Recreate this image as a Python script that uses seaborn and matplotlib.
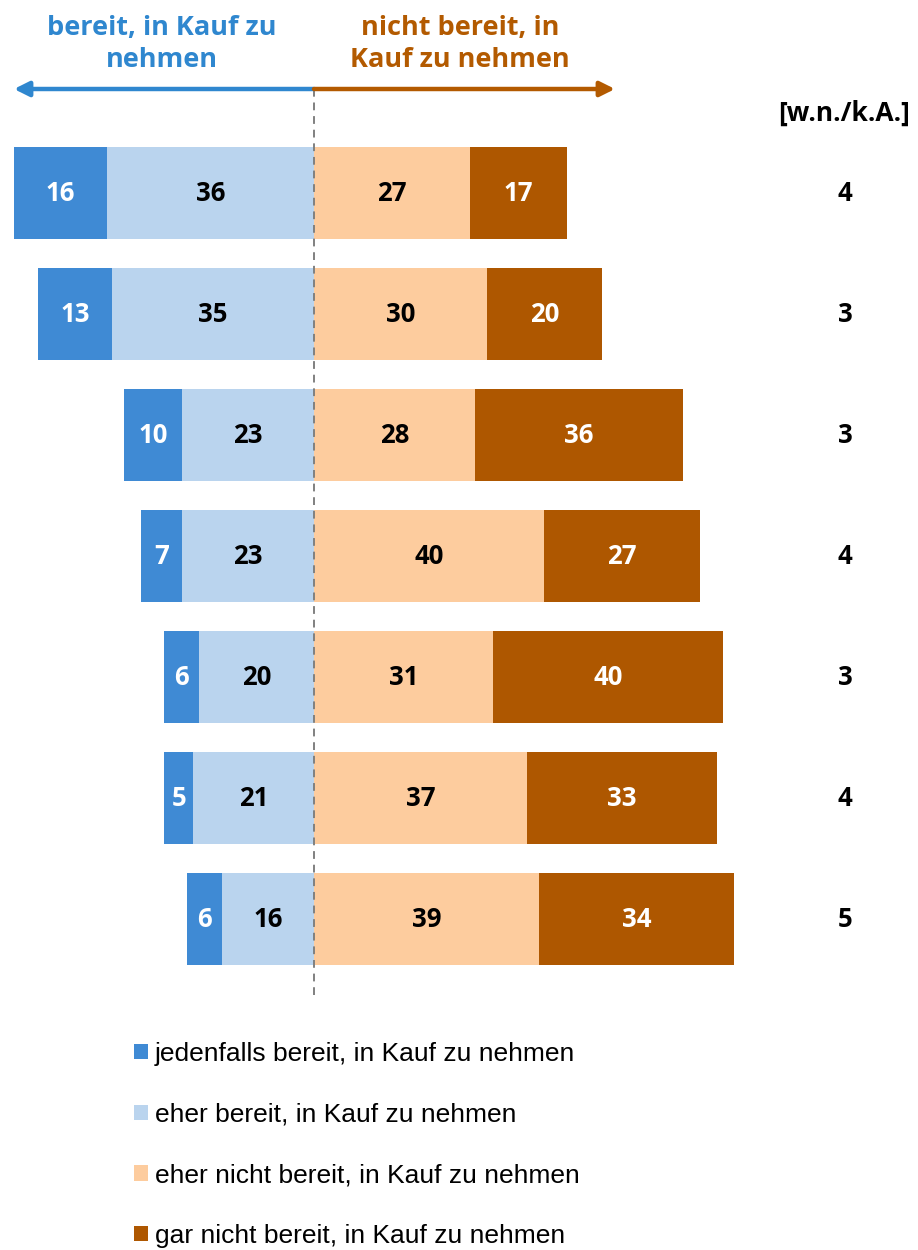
import matplotlib
matplotlib.use("Agg")
import matplotlib.pyplot as plt
import seaborn as sns
import pandas as pd
import numpy as np

# ---- data ----
rows = ["R1", "R2", "R3", "R4", "R5", "R6", "R7"]
jedenfalls = [16, 13, 10, 7, 6, 5, 6]
eher = [36, 35, 23, 23, 20, 21, 16]
eher_nicht = [27, 30, 28, 40, 31, 37, 39]
gar_nicht = [17, 20, 36, 27, 40, 33, 34]
wnka = [4, 3, 3, 4, 3, 4, 5]

legend_labels = [
    "jedenfalls bereit, in Kauf zu nehmen",
    "eher bereit, in Kauf zu nehmen",
    "eher nicht bereit, in Kauf zu nehmen",
    "gar nicht bereit, in Kauf zu nehmen",
]
header_left = "bereit, in Kauf zu\nnehmen"
header_right = "nicht bereit, in\nKauf zu nehmen"
wnka_header = "[w.n./k.A.]"

# ---- colors ----
c_dark_blue = "#3F8AD4"
c_light_blue = "#BAD4EE"
c_light_orange = "#FDCC9E"
c_dark_orange = "#AE5700"
c_head_blue = "#2F87CF"
c_head_orange = "#B35A00"

sns.set_theme(style="white")
plt.rcParams["font.family"] = ["Liberation Sans", "DejaVu Sans"]
plt.rcParams["text.color"] = "black"
BOLD = ["Open Sans", "DejaVu Sans"]

W, H = 918, 1250
fig = plt.figure(figsize=(W / 100, H / 100), dpi=100)

# axes: full width; x=0 at px 314, 5.76 px per unit
ppu = 5.76
x0 = 314
ax = fig.add_axes([0, 1 - 995 / H, 1, (995 - 88) / H])

df = pd.DataFrame({
    "row": rows,
    "jed": jedenfalls,
    "eher": eher,
    "en": eher_nicht,
    "gn": gar_nicht,
})
df["left_total"] = -(df["jed"] + df["eher"])
df["left_inner"] = -df["eher"]
df["right_total"] = df["en"] + df["gn"]
df["right_inner"] = df["en"]

bw = 0.76
sns.barplot(data=df, x="left_total", y="row", orient="y", color=c_dark_blue,
            saturation=1, width=bw, linewidth=0, ax=ax, label=legend_labels[0])
sns.barplot(data=df, x="left_inner", y="row", orient="y", color=c_light_blue,
            saturation=1, width=bw, linewidth=0, ax=ax, label=legend_labels[1])
sns.barplot(data=df, x="right_total", y="row", orient="y", color=c_dark_orange,
            saturation=1, width=bw, linewidth=0, ax=ax, label=legend_labels[3])
sns.barplot(data=df, x="right_inner", y="row", orient="y", color=c_light_orange,
            saturation=1, width=bw, linewidth=0, ax=ax, label=legend_labels[2])

ax.set_xlim(-x0 / ppu, (W - x0) / ppu)
ax.set_ylim(6.628, -0.868)
ax.axvline(0, color="#808080", lw=1.4, ls=(0, (4, 3)), zorder=5)
ax.set_axis_off()

lab_fs = 18.5
for i in range(len(rows)):
    j, e, en, gn = jedenfalls[i], eher[i], eher_nicht[i], gar_nicht[i]
    ax.text(-(e + j / 2), i, str(j), ha="center", va="center", color="white",
            fontsize=lab_fs, fontweight="bold", family=BOLD)
    ax.text(-e / 2, i, str(e), ha="center", va="center", color="black",
            fontsize=lab_fs, fontweight="bold", family=BOLD)
    ax.text(en / 2, i, str(en), ha="center", va="center", color="black",
            fontsize=lab_fs, fontweight="bold", family=BOLD)
    ax.text(en + gn / 2, i, str(gn), ha="center", va="center", color="white",
            fontsize=lab_fs, fontweight="bold", family=BOLD)
    ax.text((845 - x0) / ppu, i, str(wnka[i]), ha="center", va="center",
            color="black", fontsize=lab_fs, fontweight="bold", family=BOLD)

# header
fig.text(844 / W, 1 - 113 / H, wnka_header, ha="center", va="center",
         fontsize=19, fontweight="bold", family=BOLD, color="black")
fig.text(162 / W, 1 - 44 / H, header_left, ha="center", va="center",
         fontsize=19.5, fontweight="bold", family=BOLD, color=c_head_blue,
         linespacing=1.32)
fig.text(460 / W, 1 - 44 / H, header_right, ha="center", va="center",
         fontsize=19.5, fontweight="bold", family=BOLD, color=c_head_orange,
         linespacing=1.32)

ya = 1 - 89 / H
for xe, col in [(14, c_head_blue), (615, c_head_orange)]:
    fig.add_artist(matplotlib.patches.FancyArrowPatch(
        (x0 / W, ya), (xe / W, ya), transform=fig.transFigure,
        arrowstyle="-|>", mutation_scale=22, lw=3.2, color=col,
        shrinkA=0, shrinkB=0))

# legend
handles, labels = ax.get_legend_handles_labels()
order = [legend_labels.index(l) for l in labels]
hl = sorted(zip(order, handles, labels))
leg = ax.legend([h for _, h, _ in hl], [l for _, _, l in hl],
                loc="upper left", bbox_to_anchor=(134 / W, 1 - 1042 / H),
                bbox_transform=fig.transFigure, frameon=False,
                fontsize=19, handlelength=0.53, handleheight=0.53,
                handletextpad=0.27, labelspacing=1.39, borderaxespad=0,
                borderpad=0)
for t in leg.get_texts():
    t.set_color("black")

fig.savefig("out.png", dpi=100)
